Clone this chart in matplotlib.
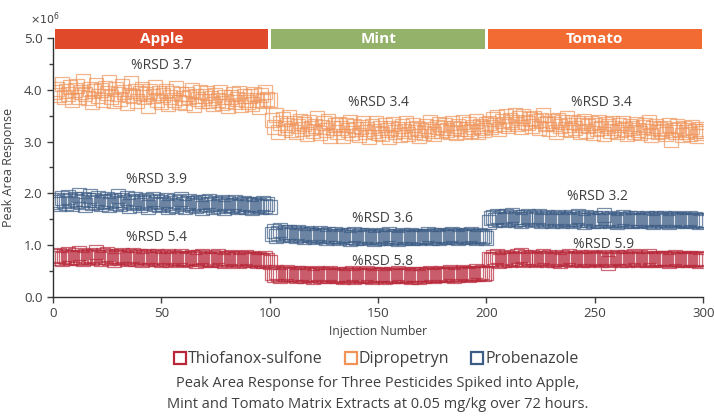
import matplotlib
matplotlib.use("Agg")
import matplotlib.pyplot as plt
from matplotlib.lines import Line2D
import numpy as np

plt.rcParams['font.family'] = ['Open Sans', 'DejaVu Sans']

# peak areas in units of 1e4 counts, one value per injection (1..300)
dip_apple = [396, 402, 389, 411, 385, 398, 392, 405, 380, 399,
             408, 386, 395, 417, 391, 384, 402, 376, 397, 410,
             388, 399, 381, 404, 393, 415, 386, 378, 401, 392,
             383, 407, 396, 374, 390, 412, 387, 398, 379, 394,
             401, 385, 392, 369, 397, 388, 405, 381, 393, 376,
             389, 398, 372, 386, 394, 380, 403, 377, 391, 384,
             375, 392, 386, 399, 371, 388, 382, 395, 379, 387,
             393, 378, 384, 372, 390, 381, 396, 374, 386, 379,
             368, 385, 391, 377, 383, 394, 370, 388, 380, 376,
             387, 373, 392, 381, 366, 389, 378, 395, 383, 380]
dip_mint = [341, 328, 352, 319, 335, 344, 326, 331, 348, 322,
            336, 318, 329, 340, 325, 333, 314, 338, 327, 321,
            330, 345, 316, 328, 335, 322, 339, 311, 326, 332,
            319, 334, 327, 310, 331, 323, 337, 316, 329, 324,
            312, 328, 335, 318, 325, 309, 330, 321, 336, 317,
            326, 314, 331, 322, 308, 327, 333, 319, 324, 313,
            329, 320, 336, 315, 325, 331, 318, 327, 311, 323,
            317, 330, 324, 338, 321, 314, 328, 333, 320, 326,
            331, 322, 318, 335, 327, 316, 329, 324, 337, 319,
            325, 334, 321, 328, 340, 318, 330, 326, 322, 333]
dip_tomato = [336, 328, 343, 331, 347, 325, 339, 334, 350, 329,
              341, 337, 352, 333, 345, 328, 349, 338, 335, 344,
              330, 346, 339, 327, 342, 351, 334, 336, 325, 340,
              333, 319, 341, 329, 337, 324, 345, 331, 322, 338,
              326, 335, 318, 332, 340, 321, 329, 336, 317, 331,
              324, 338, 327, 315, 333, 329, 320, 335, 326, 318,
              331, 322, 336, 325, 314, 330, 327, 319, 334, 323,
              316, 328, 332, 321, 337, 312, 326, 330, 318, 324,
              320, 327, 314, 331, 302, 323, 318, 329, 325, 313,
              326, 319, 322, 315, 328, 321, 311, 324, 317, 320]

prob_apple = [184, 188, 179, 191, 186, 182, 193, 187, 180, 189,
              185, 196, 183, 190, 178, 187, 194, 181, 188, 184,
              192, 179, 186, 183, 190, 177, 185, 188, 182, 195,
              180, 187, 184, 191, 176, 186, 182, 189, 183, 178,
              185, 181, 188, 174, 183, 190, 179, 186, 177, 184,
              180, 187, 173, 182, 178, 185, 176, 183, 189, 179,
              174, 182, 186, 178, 181, 175, 184, 179, 172, 183,
              177, 185, 180, 173, 182, 176, 179, 184, 171, 178,
              181, 175, 178, 183, 174, 180, 176, 182, 173, 179,
              177, 172, 180, 175, 178, 174, 181, 176, 179, 173]
prob_mint = [122, 127, 118, 124, 129, 120, 125, 121, 126, 119,
             123, 117, 125, 120, 122, 116, 124, 119, 121, 118,
             115, 120, 123, 117, 119, 114, 121, 118, 116, 122,
             118, 113, 117, 120, 115, 119, 112, 116, 121, 114,
             117, 120, 113, 116, 119, 115, 118, 112, 117, 114,
             116, 119, 114, 117, 121, 113, 115, 118, 112, 116,
             119, 114, 117, 115, 120, 113, 116, 118, 114, 117,
             115, 118, 121, 116, 113, 119, 117, 114, 120, 116,
             118, 115, 119, 122, 116, 118, 114, 120, 117, 115,
             119, 116, 121, 117, 114, 118, 120, 115, 117, 113]
prob_tomato = [145, 152, 155, 149, 157, 151, 154, 148, 156, 150,
               153, 158, 149, 155, 151, 147, 154, 150, 156, 152,
               148, 154, 151, 157, 146, 153, 149, 155, 150, 147,
               152, 148, 155, 150, 146, 153, 149, 151, 154, 147,
               150, 156, 148, 152, 145, 154, 149, 151, 147, 153,
               149, 146, 152, 158, 148, 150, 147, 153, 149, 145,
               151, 148, 154, 146, 150, 152, 147, 149, 153, 148,
               146, 151, 149, 153, 147, 150, 145, 152, 148, 150,
               147, 152, 149, 145, 151, 148, 153, 146, 150, 148,
               151, 146, 149, 152, 147, 150, 148, 145, 149, 147]

thio_apple = [79, 76, 82, 74, 80, 77, 83, 75, 78, 81,
              76, 84, 78, 73, 80, 77, 82, 75, 79, 86,
              77, 74, 81, 78, 83, 76, 79, 72, 80, 77,
              75, 82, 78, 73, 79, 76, 81, 74, 77, 80,
              72, 78, 75, 80, 73, 77, 74, 79, 76, 71,
              77, 74, 79, 72, 76, 78, 73, 75, 80, 74,
              71, 76, 73, 78, 75, 70, 77, 74, 79, 72,
              76, 73, 71, 77, 74, 79, 72, 75, 70, 76,
              73, 77, 71, 74, 76, 70, 75, 72, 78, 73,
              71, 75, 73, 69, 74, 72, 70, 76, 71, 68]
thio_mint = [47, 43, 49, 45, 41, 46, 44, 48, 42, 45,
             44, 40, 46, 43, 47, 41, 45, 42, 44, 39,
             43, 46, 41, 44, 40, 45, 42, 47, 43, 41,
             40, 44, 42, 38, 45, 41, 43, 46, 39, 42,
             44, 41, 43, 40, 46, 42, 38, 44, 41, 43,
             42, 45, 39, 43, 41, 44, 40, 42, 46, 41,
             43, 40, 44, 42, 38, 45, 41, 43, 39, 44,
             41, 44, 42, 46, 43, 40, 45, 42, 47, 43,
             45, 42, 48, 44, 41, 46, 43, 45, 49, 44,
             46, 43, 47, 45, 50, 44, 46, 48, 45, 47]
thio_tomato = [74, 71, 77, 73, 79, 70, 75, 72, 78, 74,
               71, 76, 73, 80, 74, 82, 72, 77, 75, 73,
               78, 74, 71, 76, 73, 79, 75, 72, 77, 74,
               72, 76, 74, 70, 77, 73, 75, 79, 71, 74,
               76, 73, 78, 71, 75, 74, 72, 77, 73, 76,
               73, 75, 71, 77, 74, 65, 72, 76, 73, 78,
               75, 71, 74, 78, 72, 76, 73, 80, 74, 71,
               77, 73, 75, 72, 79, 74, 71, 76, 73, 75,
               72, 76, 74, 70, 75, 73, 77, 71, 74, 72,
               75, 73, 71, 76, 74, 72, 75, 70, 73, 74]

matrices = ['Apple', 'Mint', 'Tomato']
matrix_colors = ['#E04A2A', '#94B26A', '#F26B32']
names = ['Thiofanox-sulfone', 'Dipropetryn', 'Probenazole']
colors = ['#B8283A', '#F0945A', '#3D5D86']

# %RSD labels: (x, y, text)
rsd_labels = [(50, 4.46, '%RSD 3.7'), (150, 3.76, '%RSD 3.4'), (253, 3.76, '%RSD 3.4'),
              (48, 2.26, '%RSD 3.9'), (152, 1.52, '%RSD 3.6'), (251, 1.93, '%RSD 3.2'),
              (48, 1.14, '%RSD 5.4'), (152, 0.69, '%RSD 5.8'), (254, 1.02, '%RSD 5.9')]

series = [thio_apple + thio_mint + thio_tomato,
          dip_apple + dip_mint + dip_tomato,
          prob_apple + prob_mint + prob_tomato]
inj = np.arange(1, 301)

txt = '#404040'
fig = plt.figure(figsize=(7.14, 4.16), dpi=100)
ax = fig.add_axes([0.074, 0.286, 0.911, 0.623])

for vals, c in zip(series, colors):
    ax.plot(inj, np.array(vals) / 100.0, ls='none', marker='s', ms=10.5,
            mfc='none', mec=c, mew=0.9, alpha=0.7)

for x, y, t in rsd_labels:
    ax.text(x, y, t, ha='center', va='center', fontsize=10, color=txt)

# matrix bars above the plot
for i, (m, c) in enumerate(zip(matrices, matrix_colors)):
    x0 = i * 100 + (1 if i == 0 else 0.8)
    x1 = (i + 1) * 100 - 0.8
    ax.fill_between([x0, x1], 4.79, 5.17, color=c, lw=0, clip_on=False)
    ax.text((x0 + x1) / 2, 4.98, m, ha='center', va='center', fontsize=11,
            color='white', fontweight='bold', clip_on=False)

ax.set_xlim(0, 300)
ax.set_ylim(0, 5)
ax.set_xticks(range(0, 301, 50))
ax.set_yticks(np.arange(0, 5.01, 1))
ax.set_yticks(np.arange(0.5, 5, 1), minor=True)
ax.set_yticklabels(['%.1f' % v for v in np.arange(0, 5.01, 1)])
ax.tick_params(labelsize=9.5, colors=txt, length=4, width=1)
ax.tick_params(which='minor', length=3, width=1, colors=txt)
for s in ['top', 'right']:
    ax.spines[s].set_visible(False)
for s in ['left', 'bottom']:
    ax.spines[s].set_color('#303030')
    ax.spines[s].set_linewidth(1)

ax.set_ylabel('Peak Area Response', fontsize=9, color=txt, labelpad=6)
ax.set_xlabel('Injection Number', fontsize=8.7, color=txt, labelpad=3)
fig.text(0.042, 0.955, r'$\times10^{6}$', fontsize=8, color=txt, ha='left', va='center')

handles = [Line2D([], [], ls='none', marker='s', ms=8, mfc='none', mec=c, mew=1.6)
           for c in colors]
fig.legend(handles, names, loc='center', bbox_to_anchor=(0.527, 0.136), ncol=3,
           frameon=False, fontsize=11.5, handletextpad=0.1, columnspacing=1.35,
           handlelength=0.8, labelcolor=txt)

fig.text(0.529, 0.077, 'Peak Area Response for Three Pesticides Spiked into Apple,',
         ha='center', va='center', fontsize=10.5, color=txt)
fig.text(0.529, 0.027, 'Mint and Tomato Matrix Extracts at 0.05 mg/kg over 72 hours.',
         ha='center', va='center', fontsize=10.5, color=txt)

fig.savefig('out.png', dpi=100)
